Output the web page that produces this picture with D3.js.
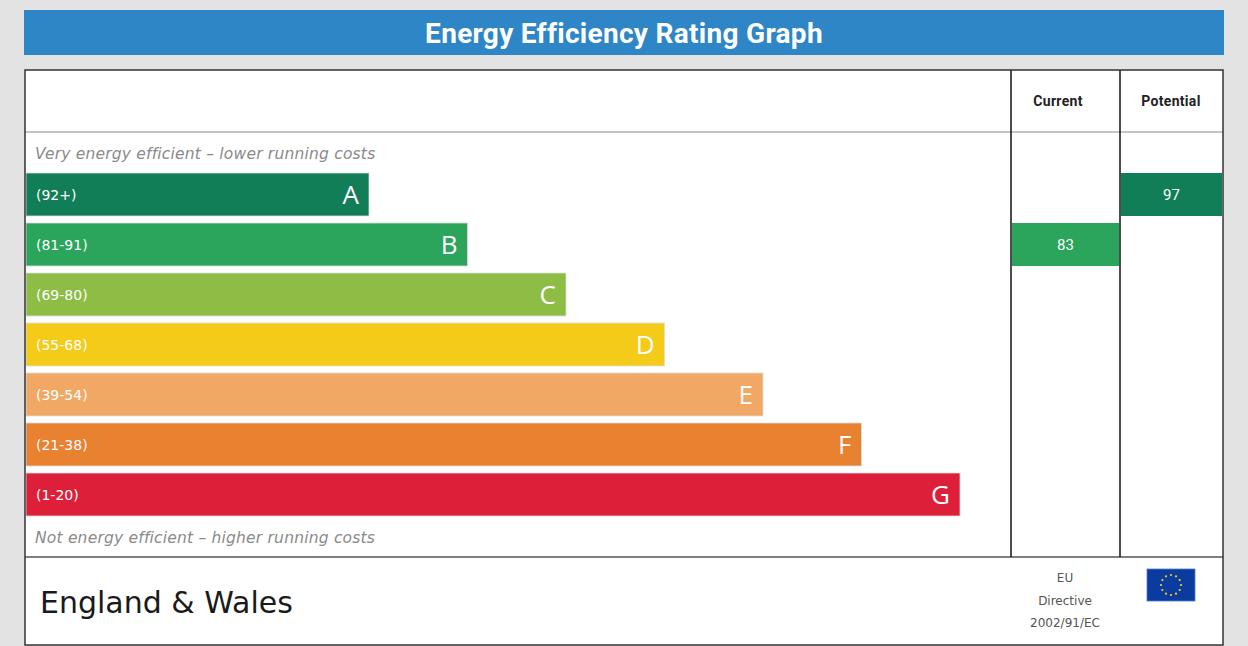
<html lang="en">
  <head>
    <title>Energy Efficiency Rating Graph</title>
    <script src="https://d3js.org/d3.v7.min.js"></script>
    <style>
    body { margin: 0; background: #e3e3e3; }
    .chart text { font-family: "DejaVu Sans", sans-serif; }
    .chart text.title, .chart text.num { font-family: Roboto, sans-serif; }
    .chart text.letter { font-family: "Open Sans", sans-serif; }
    .title { font-weight: bold; fill: white; }
    .band text { fill: white; }
    .note { fill: #8a8a8a; font-style: italic; }
    </style>
  </head>
  <body>
    <svg class="chart" width="1248" height="646"></svg>
    <script>
      // bands, top (best) to bottom
      var letters = ["A", "B", "C", "D", "E", "F", "G"];
      var ranges = ["(92+)", "(81-91)", "(69-80)", "(55-68)", "(39-54)", "(21-38)", "(1-20)"];
      var lowerBounds = [92, 81, 69, 55, 39, 21, 1];
      var colours = ["#117e57", "#2ba55c", "#8dbd45", "#f4cb18", "#f2a865", "#e88130", "#dd1f3a"];
      var columns = ["Current", "Potential"];
      var ratings = [83, 97];
      var directive = ["EU", "Directive", "2002/91/EC"];

      var svg = d3.select(".chart");
      var boxL = 25, boxR = 1223, boxT = 70, boxB = 645;
      var colX = [1011, 1120];
      var headBottom = 132, bodyBottom = 557;

      function bandOf(v) {
        for (var i = 0; i < lowerBounds.length; i++) if (v >= lowerBounds[i]) return i;
        return lowerBounds.length - 1;
      }

      // title bar
      svg.append("rect").attr("x", 24).attr("y", 10).attr("width", 1200).attr("height", 45)
        .attr("fill", "#2e86c7");
      svg.append("text").attr("class", "title").attr("x", 624).attr("y", 33)
        .attr("dy", "0.36em").attr("text-anchor", "middle").attr("font-size", 28)
        .attr("letter-spacing", 0.3)
        .text("Energy Efficiency Rating Graph");

      // white panel
      svg.append("rect").attr("x", boxL).attr("y", boxT).attr("width", boxR - boxL)
        .attr("height", boxB - boxT).attr("fill", "white");

      var y = d3.scaleBand().domain(letters).range([173, 516]).paddingInner(0.14);
      var w = d3.scaleLinear().domain([0, letters.length - 1]).range([343, 934]);

      var bands = svg.selectAll("g.band").data(letters).enter().append("g")
        .attr("class", "band")
        .attr("transform", function(d) { return "translate(" + (boxL + 1) + "," + y(d) + ")"; });

      bands.append("rect")
        .attr("width", function(d, i) { return w(i); })
        .attr("height", y.bandwidth())
        .attr("fill", function(d, i) { return colours[i]; })
        .attr("stroke", "#dcdcdc").attr("stroke-width", 0.8);

      bands.append("text")
        .attr("x", 10).attr("y", y.bandwidth() / 2).attr("dy", "0.36em")
        .attr("font-size", 14)
        .text(function(d, i) { return ranges[i]; });

      bands.append("text").attr("class", "letter")
        .attr("x", function(d, i) { return w(i) - 10; })
        .attr("y", y.bandwidth() / 2).attr("dy", "0.36em")
        .attr("text-anchor", "end").attr("font-size", 26)
        .text(function(d) { return d; });

      svg.append("text").attr("class", "note").attr("x", 35).attr("y", 153)
        .attr("dy", "0.36em").attr("font-size", 15.5).attr("letter-spacing", 0.2)
        .text("Very energy efficient \u2013 lower running costs");
      svg.append("text").attr("class", "note").attr("x", 35).attr("y", 537)
        .attr("dy", "0.36em").attr("font-size", 15.5).attr("letter-spacing", 0.2)
        .text("Not energy efficient \u2013 higher running costs");

      // rating columns
      var colEdges = [colX[0], colX[1], boxR];
      var headX = [1058, 1171];
      columns.forEach(function(c, j) {
        var x0 = colEdges[j], x1 = colEdges[j + 1];
        var b = bandOf(ratings[j]);
        svg.append("rect").attr("x", x0 + 1).attr("y", y(letters[b]))
          .attr("width", x1 - x0 - 2).attr("height", y.bandwidth())
          .attr("fill", colours[b]);
        svg.append("text").attr("class", "num").attr("x", (x0 + x1) / 2)
          .attr("y", y(letters[b]) + y.bandwidth() / 2)
          .attr("dy", "0.36em").attr("text-anchor", "middle").attr("font-size", 15)
          .attr("fill", "white").text(ratings[j]);
        svg.append("text").attr("class", "num").attr("x", headX[j]).attr("y", 101)
          .attr("dy", "0.36em").attr("text-anchor", "middle").attr("font-size", 14)
          .attr("font-weight", "bold").attr("letter-spacing", 0.3).attr("fill", "#222").text(c);
      });

      // grid lines
      svg.append("line").attr("x1", boxL).attr("x2", boxR).attr("y1", headBottom).attr("y2", headBottom)
        .attr("stroke", "#8a8a8a").attr("stroke-width", 1.2);
      svg.append("line").attr("x1", boxL).attr("x2", boxR).attr("y1", bodyBottom).attr("y2", bodyBottom)
        .attr("stroke", "#555").attr("stroke-width", 1.5);
      colX.forEach(function(x) {
        svg.append("line").attr("x1", x).attr("x2", x).attr("y1", boxT).attr("y2", bodyBottom)
          .attr("stroke", "#111").attr("stroke-width", 1.5);
      });
      svg.append("rect").attr("x", boxL).attr("y", boxT).attr("width", boxR - boxL)
        .attr("height", boxB - boxT).attr("fill", "none")
        .attr("stroke", "#333").attr("stroke-width", 1.5);

      // footer
      svg.append("text").attr("x", 40).attr("y", 602).attr("dy", "0.36em")
        .attr("font-size", 30).attr("fill", "#1a1a1a").text("England & Wales");
      svg.selectAll("text.dir").data(directive).enter().append("text")
        .attr("class", "dir").attr("x", 1065)
        .attr("y", function(d, i) { return 578 + i * 22.5; })
        .attr("dy", "0.36em").attr("text-anchor", "middle").attr("font-size", 12)
        .attr("fill", "#555").text(function(d) { return d; });

      // EU flag
      var flag = svg.append("g").attr("transform", "translate(1147,569)");
      flag.append("rect").attr("width", 48).attr("height", 32).attr("fill", "#0b3b9e")
        .attr("stroke", "#4a7fd0").attr("stroke-width", 0.8);
      flag.selectAll("circle").data(d3.range(12)).enter().append("circle")
        .attr("cx", function(d) { return 24 + 10 * Math.sin(d * Math.PI / 6); })
        .attr("cy", function(d) { return 16 - 10 * Math.cos(d * Math.PI / 6); })
        .attr("r", 1.1).attr("fill", "#f4d21a");
    </script>
  </body>
</html>
